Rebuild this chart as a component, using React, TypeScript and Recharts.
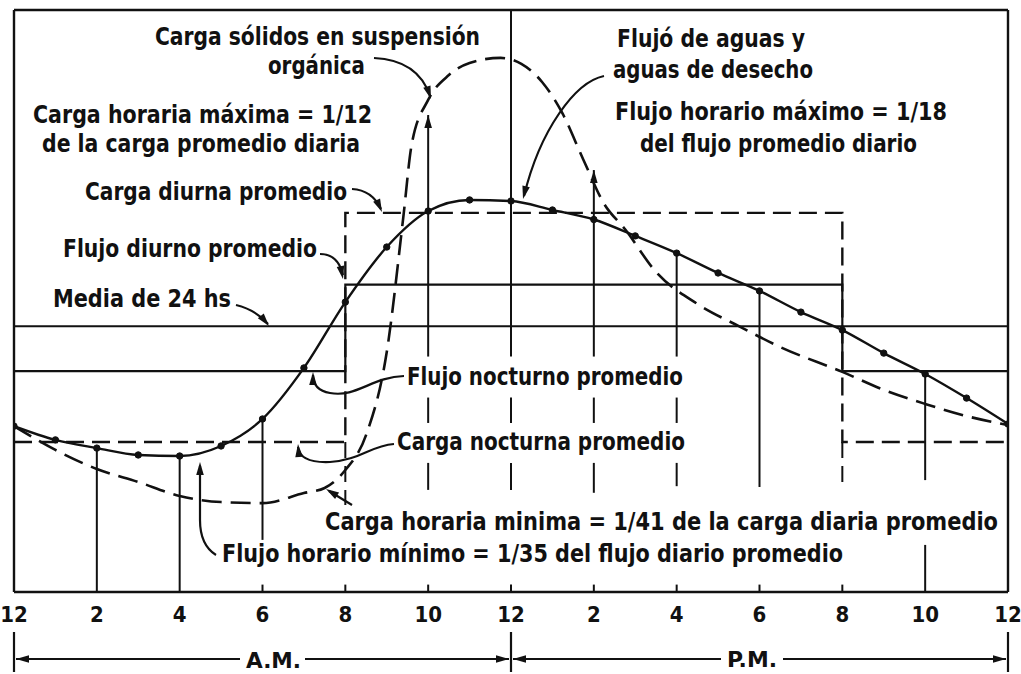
import React from 'react';
import { LineChart, Line, XAxis, YAxis, ReferenceLine } from 'recharts';

// hourly flow of water and wastewater (relative units, 24-h mean ~ 100)
const hours = [0, 1, 2, 3, 4, 5, 6, 7, 8, 9, 10, 11, 12, 13, 14, 15, 16, 17, 18, 19, 20, 21, 22, 23, 24];
const flowValues = [
  62.7, 57.5, 54.4, 51.8, 51.4, 55.2, 65.4, 84.7, 109.6, 130.4, 144.0, 148.2, 147.8,
  144.4, 140.8, 134.6, 128.1, 120.6, 113.8, 105.8, 99.0, 90.3, 82.4, 73.3, 63.5,
];

// organic suspended solids load (read at uneven times around the peak)
const loadHours = [
  0, 1, 2, 3, 4, 5, 6, 7, 7.5, 8, 8.5, 9, 9.4, 9.6, 10, 10.5, 11, 11.75, 12.25, 12.75,
  13.25, 13.75, 14.25, 14.75, 15.5, 16.5, 17.5, 18.5, 20, 21, 22, 23, 24,
];
const loadValues = [
  62.7, 53.7, 46.5, 41.6, 36.3, 34.0, 33.6, 37.4, 39.3, 46.1, 59.3, 90.7, 141.7, 169, 186,
  195.4, 200, 201.9, 199.6, 192.8, 180.7, 163.3, 146.7, 137.2, 121, 108.9, 100.5, 92.6,
  83.2, 76.4, 71.1, 66.5, 63.1,
];

// day / night averages (step at 8 A.M. and 8 P.M.)
const stepHours = [0, 8, 20, 24];
const flowAverages = [83.5, 116.2, 83.5, 83.5];
const loadAverages = [56.7, 143.3, 56.7, 56.7];
const mean24h = 100.5;

const tickHours = [0, 2, 4, 6, 8, 10, 12, 14, 16, 18, 20, 22, 24];
const tickLabels = ['12', '2', '4', '6', '8', '10', '12', '2', '4', '6', '8', '10', '12'];

const W = 1021;
const H = 674;
const Y_MAX = 220;
const INK = '#111';
const FONT = "'DejaVu Sans Condensed', 'Liberation Sans Narrow', 'DejaVu Sans', sans-serif";

const PLOT = { left: 14, top: 10, width: 994, height: 582 };
const sx = (h: number) => PLOT.left + (h / 24) * PLOT.width;
const sy = (v: number) => PLOT.top + (1 - v / Y_MAX) * PLOT.height;

const flowData = hours.map((h, i) => ({ h, v: flowValues[i] }));
const loadData = loadHours.map((h, i) => ({ h, v: loadValues[i] }));
const flowStepData = stepHours.map((h, i) => ({ h, v: flowAverages[i] }));
const loadStepData = stepHours.map((h, i) => ({ h, v: loadAverages[i] }));

// vertical hour guides: [hour, from, to, dashed]
const guides: [number, number, number, boolean][] = [
  [2, 54.4, 0, false],
  [4, 51.4, 0, false],
  [6, 65.4, 19.7, false],
  [8, 56.7, 32.9, true],
  [10, 180.3, 89.0, false],
  [10, 73.5, 63.9, false],
  [10, 48.8, 38.6, false],
  [12, 220, 89.0, false],
  [12, 73.5, 63.9, false],
  [12, 48.8, 38.6, false],
  [14, 159.5, 89.0, false],
  [14, 73.5, 63.9, false],
  [14, 48.8, 37.5, false],
  [16, 128.1, 89.0, false],
  [16, 73.5, 63.9, false],
  [16, 48.8, 40.0, false],
  [18, 113.8, 39.7, false],
  [20, 56.7, 39.7, true],
  [22, 82.4, 42.3, false],
  [22, 17.8, 0, false],
];
const bottomTicks = [6, 8, 10, 12, 14, 16, 18, 20];

const labels: { text: string; x: number; y: number; w: number }[] = [
  { text: 'Carga sólidos en suspensión', x: 155, y: 45, w: 325 },
  { text: 'orgánica', x: 268, y: 74, w: 97 },
  { text: 'Carga horaria máxima = 1/12', x: 33, y: 123, w: 339 },
  { text: 'de la carga promedio diaria', x: 42, y: 152, w: 318 },
  { text: 'Carga diurna promedio', x: 85, y: 200, w: 262 },
  { text: 'Flujo diurno promedio', x: 63, y: 257, w: 254 },
  { text: 'Media de 24 hs', x: 53, y: 307, w: 178 },
  { text: 'Flujó de aguas y', x: 617, y: 47, w: 188 },
  { text: 'aguas de desecho', x: 613, y: 78, w: 200 },
  { text: 'Flujo horario máximo = 1/18', x: 615, y: 120, w: 332 },
  { text: 'del flujo promedio diario', x: 640, y: 152, w: 277 },
  { text: 'Flujo nocturno promedio', x: 407, y: 385, w: 276 },
  { text: 'Carga nocturna promedio', x: 397, y: 450, w: 288 },
  { text: 'Carga horaria minima = 1/41 de la carga diaria promedio', x: 325, y: 530, w: 673 },
  { text: 'Flujo horario mínimo = 1/35 del flujo diario promedio', x: 222, y: 562, w: 621 },
];

const leaders: { d: string; tip: [number, number]; from: [number, number] }[] = [
  { d: 'M374,58 Q418,60 430,96', tip: [431, 99], from: [418, 60] },
  { d: 'M352,189 Q372,190 381,209', tip: [382, 212], from: [372, 190] },
  { d: 'M320,254 Q338,254 343,275', tip: [343, 279], from: [338, 254] },
  { d: 'M236,305 Q256,310 268,324', tip: [269, 326], from: [256, 310] },
  { d: 'M604,76 C575,82 540,130 524,196', tip: [523, 199], from: [540, 130] },
  { d: 'M404,376 C372,377 356,398 330,393 C318,391 313,384 313,375', tip: [313, 372], from: [313, 384] },
  { d: 'M394,444 C370,446 360,460 330,462 C306,463 299,456 298,447', tip: [298, 444], from: [299, 456] },
  { d: 'M352,505 L329,491', tip: [326, 489], from: [352, 505] },
  { d: 'M216,555 Q200,545 200,520 L200,466', tip: [200, 462], from: [200, 520] },
];

const Head = ({ tip, from }: { tip: [number, number]; from: [number, number] }) => {
  const [tx, ty] = tip;
  const a = Math.atan2(ty - from[1], tx - from[0]);
  const len = 13;
  const half = 3.8;
  const bx = tx - len * Math.cos(a);
  const by = ty - len * Math.sin(a);
  const px = -Math.sin(a) * half;
  const py = Math.cos(a) * half;
  return <polygon points={`${tx},${ty} ${bx + px},${by + py} ${bx - px},${by - py}`} fill={INK} />;
};

const HourTick = (props: any) => {
  const { x, y, payload } = props;
  const idx = tickHours.indexOf(payload.value);
  return (
    <text x={x} y={y + 22} textAnchor="middle" fontFamily={FONT} fontWeight={700} fontSize={22} fill={INK}>
      {tickLabels[idx]}
    </text>
  );
};

const Overlay = () => {
  const rowY = 659;
  return (
    <svg width={W} height={H} style={{ position: 'absolute', left: 0, top: 0, pointerEvents: 'none' }}>
      {labels.map((l) => (
        <text
          key={l.text}
          x={l.x}
          y={l.y}
          textLength={l.w}
          lengthAdjust="spacingAndGlyphs"
          fontFamily={FONT}
          fontWeight={700}
          fontSize={24}
          fill={INK}
        >
          {l.text}
        </text>
      ))}
      {leaders.map((l, i) => (
        <g key={i}>
          <path d={l.d} fill="none" stroke={INK} strokeWidth={2.2} />
          <Head tip={l.tip} from={l.from} />
        </g>
      ))}
      {/* arrow tips on the 10 A.M. and 2 P.M. verticals */}
      <Head tip={[sx(10), sy(180.3)]} from={[sx(10), sy(150)]} />
      <Head tip={[sx(14), sy(159.5)]} from={[sx(14), sy(130)]} />

      {/* A.M. / P.M. bracket */}
      {[0, 12, 24].map((h) => (
        <line key={h} x1={sx(h)} x2={sx(h)} y1={632} y2={672} stroke={INK} strokeWidth={2.2} />
      ))}
      <line x1={sx(0) + 2} x2={240} y1={rowY} y2={rowY} stroke={INK} strokeWidth={2} />
      <line x1={305} x2={sx(12) - 2} y1={rowY} y2={rowY} stroke={INK} strokeWidth={2} />
      <line x1={sx(12) + 2} x2={721} y1={rowY} y2={rowY} stroke={INK} strokeWidth={2} />
      <line x1={783} x2={sx(24) - 2} y1={rowY} y2={rowY} stroke={INK} strokeWidth={2} />
      <Head tip={[sx(0) + 2, rowY]} from={[60, rowY]} />
      <Head tip={[sx(12) - 2, rowY]} from={[450, rowY]} />
      <Head tip={[sx(12) + 2, rowY]} from={[560, rowY]} />
      <Head tip={[sx(24) - 2, rowY]} from={[950, rowY]} />
      <text x={246} y={668} textLength={55} lengthAdjust="spacingAndGlyphs" fontFamily={FONT} fontWeight={700} fontSize={22} fill={INK}>
        A.M.
      </text>
      <text x={727} y={667} textLength={50} lengthAdjust="spacingAndGlyphs" fontFamily={FONT} fontWeight={700} fontSize={22} fill={INK}>
        P.M.
      </text>
    </svg>
  );
};

export default function App() {
  return (
    <div style={{ position: 'absolute', left: 0, top: 0, width: W, height: H, background: '#fff' }}>
      <LineChart width={W} height={H} margin={{ top: 10, right: 13, bottom: 52, left: 14 }}>
        <XAxis
          type="number"
          dataKey="h"
          domain={[0, 24]}
          ticks={tickHours}
          interval={0}
          allowDataOverflow
          height={30}
          tickLine={false}
          axisLine={{ stroke: INK, strokeWidth: 2.4 }}
          tick={HourTick}
        />
        <YAxis type="number" dataKey="v" domain={[0, Y_MAX]} hide allowDataOverflow />

        {/* frame */}
        <ReferenceLine y={Y_MAX} stroke={INK} strokeWidth={2.4} />
        <ReferenceLine x={0} stroke={INK} strokeWidth={2.4} />
        <ReferenceLine x={24} stroke={INK} strokeWidth={2.4} />
        <ReferenceLine y={mean24h} stroke={INK} strokeWidth={2} />

        {guides.map(([h, a, b, dashed], i) => (
          <ReferenceLine
            key={`g${i}`}
            segment={[{ x: h, y: a }, { x: h, y: b }]}
            stroke={INK}
            strokeWidth={2}
            strokeDasharray={dashed ? '16 8' : undefined}
          />
        ))}
        {bottomTicks.map((h) => (
          <ReferenceLine key={`t${h}`} segment={[{ x: h, y: 0 }, { x: h, y: 2.8 }]} stroke={INK} strokeWidth={2} />
        ))}

        <Line
          data={flowStepData}
          dataKey="v"
          type="stepAfter"
          stroke={INK}
          strokeWidth={2.2}
          dot={false}
          isAnimationActive={false}
        />
        <Line
          data={loadStepData}
          dataKey="v"
          type="stepAfter"
          stroke={INK}
          strokeWidth={2.4}
          strokeDasharray="18 8"
          dot={false}
          isAnimationActive={false}
        />
        <Line
          data={loadData}
          dataKey="v"
          type="monotone"
          stroke={INK}
          strokeWidth={2.6}
          strokeDasharray="20 9"
          dot={false}
          isAnimationActive={false}
        />
        <Line
          data={flowData}
          dataKey="v"
          type="monotone"
          stroke={INK}
          strokeWidth={2.4}
          dot={{ r: 3.2, fill: INK, stroke: INK, strokeWidth: 1 }}
          isAnimationActive={false}
        />
      </LineChart>
      <Overlay />
    </div>
  );
}
